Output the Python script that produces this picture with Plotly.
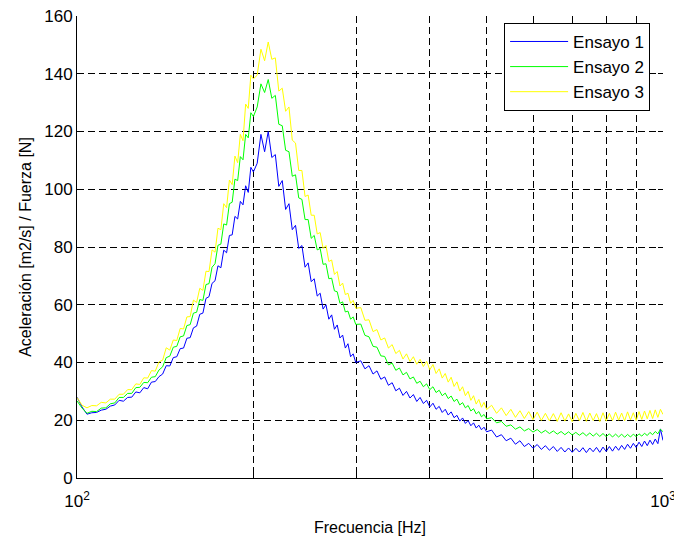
import plotly.graph_objects as go

# Frequency grid of the measured transfer functions [Hz]
freq = [
    100, 102, 104, 106, 108, 110, 112, 114, 116, 118,
    120, 122, 124, 126, 128, 130, 132, 134, 136, 138,
    140, 142, 144, 146, 148, 150, 152, 154, 156, 158,
    160, 162, 164, 166, 168, 170, 172, 174, 176, 178,
    180, 182, 184, 186, 188, 190, 192, 194, 196, 198,
    200,
    203, 206, 209, 212, 215, 218, 221, 224, 227, 230,
    233, 236, 239, 242, 245, 248, 251, 254, 257, 260,
    263, 266, 269, 272, 275, 278, 281, 284, 287, 290,
    293, 296, 299,
    305, 310, 315, 320, 325, 330, 335, 340, 345, 350,
    355, 360, 365, 370, 375, 380, 385, 390, 395, 400,
    405, 410, 415, 420, 425, 430, 435, 440, 445, 450,
    455, 460, 465, 470, 475, 480, 485, 490, 495, 500,
    510, 520, 530, 540, 550, 560, 570, 580, 590, 600,
    610, 620, 630, 640, 650, 660, 670, 680, 690, 700,
    710, 720, 730, 740, 750, 760, 770, 780, 790, 800,
    810, 820, 830, 840, 850, 860, 870, 880, 890, 900,
    910, 920, 930, 940, 950, 960, 970, 980, 990, 1000,
]

# Acceleration / force, test 1
ensayo1 = [
    28.0, 24.6, 22.1, 22.6, 22.7, 23.5, 23.8, 24.9, 25.3, 26.9,
    26.6, 27.9, 28.0, 29.8, 29.5, 31.3, 30.9, 33.2, 33.4, 35.1,
    36.0, 38.9, 38.8, 41.7, 42.0, 44.8, 45.0, 48.4, 48.6, 52.0,
    52.6, 56.7, 57.1, 62.2, 62.8, 67.4, 68.3, 73.5, 72.8, 78.9,
    78.0, 84.0, 84.2, 90.6, 89.7, 95.8, 94.6, 101.2, 98.9, 107.6,
    106.0,
    109.0, 119.0, 113.0, 120.0, 111.0, 112.0, 101.0, 103.0, 93.0, 95.0,
    86.0, 87.5, 79.5, 80.5, 73.0, 74.5, 68.0, 69.0, 63.0, 64.0,
    58.5, 60.0, 55.0, 56.5, 51.5, 53.0, 48.5, 49.5, 45.0, 46.5,
    42.0, 43.0, 40.0,
    40.6, 37.8, 38.9, 36.0, 37.1, 34.2, 35.0, 32.1, 33.0, 30.2,
    31.1, 28.6, 30.0, 27.7, 28.9, 26.5, 27.9, 25.8, 26.9, 24.6,
    25.9, 23.8, 24.8, 22.7, 23.8, 21.8, 22.9, 20.9, 21.7, 19.7,
    20.8, 18.9, 19.9, 18.1, 19.1, 17.3, 18.3, 16.7, 17.6, 16.0,
    16.6, 14.2, 15.0, 12.9, 13.8, 11.7, 12.9, 10.9, 12.0, 10.3,
    11.6, 9.9, 11.2, 9.6, 10.9, 9.2, 10.6, 9.0, 10.4, 8.9,
    10.3, 9.0, 10.5, 8.8, 10.4, 9.1, 10.6, 8.9, 10.7, 9.2,
    10.9, 9.3, 11.0, 9.6, 11.3, 9.9, 11.7, 10.3, 12.0, 10.6,
    12.4, 10.9, 12.8, 11.2, 13.1, 11.6, 13.5, 11.9, 17.0, 13.0,
]

# Acceleration / force, test 2
ensayo2 = [
    26.7, 24.2, 22.4, 23.1, 23.0, 24.2, 24.3, 25.7, 26.0, 27.9,
    27.9, 29.3, 29.3, 31.3, 31.4, 33.1, 33.0, 34.9, 35.1, 37.4,
    38.5, 41.7, 42.2, 45.3, 45.6, 48.9, 49.2, 52.8, 53.1, 57.1,
    57.4, 61.8, 61.5, 67.0, 67.3, 73.0, 74.2, 80.6, 81.0, 88.0,
    87.6, 95.0, 95.5, 103.5, 103.0, 111.3, 110.2, 119.0, 117.8, 126.5,
    125.2,
    128.5, 136.5, 133.5, 138.0, 131.5, 132.5, 122.5, 122.0, 113.5, 113.0,
    104.5, 105.0, 97.0, 96.5, 89.5, 89.5, 83.0, 84.0, 79.0, 79.5,
    74.0, 74.2, 69.0, 69.2, 64.8, 64.5, 60.5, 61.0, 57.5, 57.8,
    55.0, 55.8, 53.2,
    53.3, 49.4, 48.9, 45.6, 45.3, 42.3, 42.1, 39.2, 39.8, 37.3,
    38.1, 35.7, 36.6, 34.3, 35.0, 32.8, 33.5, 31.6, 32.6, 30.6,
    31.6, 29.6, 30.4, 28.5, 29.4, 27.5, 28.4, 26.5, 27.3, 25.3,
    26.1, 24.3, 25.1, 23.2, 24.0, 22.2, 23.0, 21.2, 22.0, 20.5,
    20.9, 19.1, 19.6, 17.9, 18.4, 16.9, 17.7, 16.3, 17.1, 15.9,
    16.8, 15.6, 16.5, 15.4, 16.3, 15.2, 16.1, 15.0, 16.0, 14.9,
    15.8, 14.8, 15.7, 14.6, 15.6, 14.5, 15.5, 14.4, 15.4, 14.3,
    15.3, 14.2, 15.2, 14.2, 15.2, 14.1, 15.1, 14.2, 15.2, 14.3,
    15.3, 14.5, 15.5, 14.7, 15.8, 15.0, 16.1, 15.3, 16.9, 16.0,
]

# Acceleration / force, test 3
ensayo3 = [
    27.9, 25.2, 24.3, 25.1, 25.0, 26.2, 26.0, 27.3, 27.3, 29.0,
    29.0, 30.6, 30.6, 32.6, 32.4, 34.7, 34.6, 37.2, 37.0, 40.2,
    40.8, 45.1, 44.3, 47.8, 47.6, 51.8, 51.6, 55.8, 55.9, 61.6,
    60.8, 65.7, 65.0, 71.6, 71.5, 79.0, 78.2, 86.5, 86.0, 95.0,
    93.6, 103.2, 101.6, 111.5, 109.2, 119.0, 116.8, 129.5, 128.0, 139.5,
    138.2,
    139.5, 148.5, 144.5, 151.0, 145.0, 145.5, 134.0, 135.0, 127.0, 128.5,
    117.0, 116.0, 106.5, 106.5, 97.5, 98.0, 91.0, 91.0, 84.5, 85.0,
    79.5, 80.5, 75.0, 75.5, 70.5, 71.5, 66.5, 67.5, 63.5, 64.0,
    60.5, 61.5, 58.8,
    59.0, 54.6, 54.8, 50.7, 51.4, 47.8, 48.5, 45.0, 46.2, 43.1,
    44.2, 41.2, 43.0, 40.3, 42.0, 39.4, 41.1, 38.6, 40.4, 37.5,
    39.3, 36.2, 37.8, 34.6, 36.2, 33.2, 34.9, 31.7, 33.3, 30.1,
    31.6, 28.5, 30.0, 26.9, 28.5, 25.6, 27.2, 24.5, 26.2, 23.7,
    25.2, 22.4, 24.3, 21.6, 23.8, 21.0, 23.3, 20.6, 23.0, 20.2,
    22.8, 19.9, 22.4, 19.8, 22.3, 19.6, 22.6, 19.7, 22.2, 19.5,
    22.4, 19.8, 22.7, 19.6, 22.5, 19.9, 22.3, 19.5, 22.6, 19.7,
    22.4, 19.9, 22.8, 20.0, 22.5, 19.8, 22.9, 20.1, 22.6, 19.9,
    23.0, 20.3, 23.2, 20.5, 23.4, 20.6, 23.6, 21.0, 23.8, 22.0,
]

series_names = ["Ensayo 1", "Ensayo 2", "Ensayo 3"]
series_colors = ["#0000FF", "#00FF00", "#FFFF00"]

x_major = [100, 1000]
x_major_text = ["10<sup>2</sup>", "10<sup>3</sup>"]
x_minor = [200, 300, 400, 500, 600, 700, 800, 900]
y_ticks = [0, 20, 40, 60, 80, 100, 120, 140, 160]

FONT = "Liberation Sans, Arial, Helvetica, sans-serif"
GRID_DASH = "7px,4px"

fig = go.Figure()
for name, color, vals in zip(series_names, series_colors, [ensayo1, ensayo2, ensayo3]):
    fig.add_trace(go.Scatter(
        x=freq, y=vals, mode="lines", name=name, legendgroup=name,
        line=dict(color=color, width=1),
    ))

# invisible trace carrying the mirrored top/right tick marks
fig.add_trace(go.Scatter(x=[100, 1000], y=[0, 160], mode="markers",
                         marker=dict(opacity=0), xaxis="x2", yaxis="y2",
                         showlegend=False, hoverinfo="skip"))

fig.update_layout(
    width=674, height=536,
    margin=dict(l=77, r=11, t=16, b=58),
    paper_bgcolor="white", plot_bgcolor="white",
    font=dict(family=FONT, size=17, color="black"),
    showlegend=True,
    legend=dict(
        x=0.978, y=0.985, xanchor="right", yanchor="top",
        bgcolor="white", bordercolor="black", borderwidth=1,
        font=dict(size=17), traceorder="grouped", tracegroupgap=0,
        itemwidth=58,
    ),
    xaxis=dict(
        type="log", range=[2, 3],
        tickvals=x_major, ticktext=x_major_text,
        ticks="inside", ticklen=5, tickcolor="black",
        minor=dict(tickvals=x_minor, ticks="inside", ticklen=5, tickcolor="black",
                   showgrid=True, gridcolor="black", gridwidth=1, griddash=GRID_DASH),
        showline=True, linecolor="black", linewidth=1,
        showgrid=True, gridcolor="black", gridwidth=1, griddash=GRID_DASH,
        zeroline=False, ticklabelstandoff=8, ticklabeloverflow="allow",
        automargin=False,
        title=dict(text="Frecuencia [Hz]", font=dict(size=16), standoff=11),
    ),
    yaxis=dict(
        range=[0, 160], tickvals=y_ticks,
        ticks="inside", ticklen=5, tickcolor="black",
        showline=True, linecolor="black", linewidth=1,
        showgrid=True, gridcolor="black", gridwidth=1, griddash=GRID_DASH,
        zeroline=False, automargin=False,
        title=dict(text="Aceleración [m2/s] / Fuerza [N]", font=dict(size=16), standoff=8),
    ),
    xaxis2=dict(
        type="log", range=[2, 3], overlaying="x", side="top",
        tickvals=x_major, showticklabels=False,
        ticks="inside", ticklen=5, tickcolor="black",
        minor=dict(tickvals=x_minor, ticks="inside", ticklen=5, tickcolor="black",
                   showgrid=False),
        showline=False, showgrid=False, zeroline=False, automargin=False,
    ),
    yaxis2=dict(
        range=[0, 160], overlaying="y", side="right", anchor="x2",
        tickvals=y_ticks, showticklabels=False,
        ticks="inside", ticklen=5, tickcolor="black",
        showline=False, showgrid=False, zeroline=False, automargin=False,
    ),
)

fig.write_html("out.html")
